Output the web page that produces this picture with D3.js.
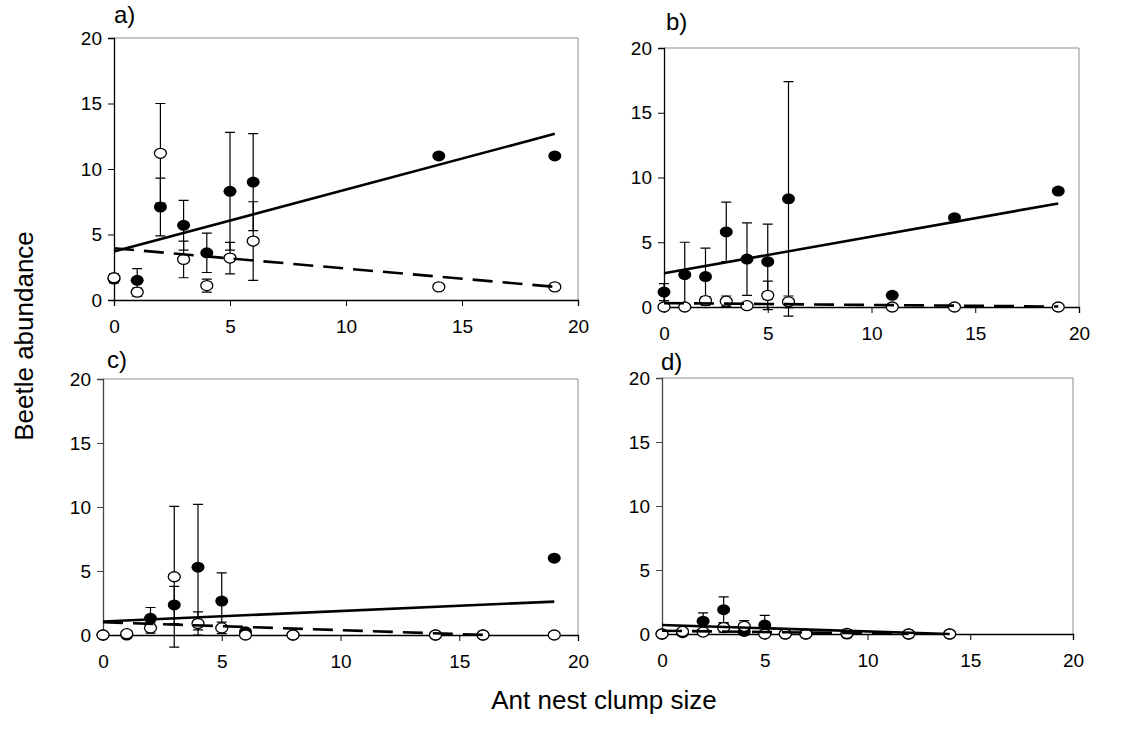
<!DOCTYPE html>
<html><head><meta charset="utf-8">
<script src="https://cdn.jsdelivr.net/npm/d3@7"></script>
<style>body{margin:0;background:#fff}svg{display:block}text{font-family:"Liberation Sans",Arial,sans-serif;fill:#000}</style>
</head><body><svg id="c" width="1130" height="742"></svg>
<script>
// ---- data ----
const xTicks = [0, 5, 10, 15, 20];
const yTicks = [0, 5, 10, 15, 20];
const panelLabels = ["a)", "b)", "c)", "d)"];
const xTitle = "Ant nest clump size";
const yTitle = "Beetle abundance";

const xA = [0, 1, 2, 3, 4, 5, 6, 14, 19];
const filledA = [1.6, 1.5, 7.1, 5.7, 3.6, 8.3, 9.0, 11.0, 11.0];
const filledErrA = [0.3, 0.9, 2.2, 1.9, 1.5, 4.5, 3.7, 0, 0];
const openA = [1.7, 0.6, 11.2, 3.1, 1.1, 3.2, 4.5, 1.0, 1.0];
const openErrA = [0.3, 0.3, 3.8, 1.4, 0.5, 1.2, 3.0, 0, 0];
const trendSolidA = [3.7, 0.473, 0, 19];   // intercept, slope, xFrom, xTo
const trendDashA = [3.95, -0.155, 0, 19];

const xB = [0, 1, 2, 3, 4, 5, 6, 11, 14, 19];
const filledB = [1.15, 2.5, 2.35, 5.8, 3.7, 3.5, 8.35, 0.9, 6.9, 8.95];
const filledErrB = [0.65, 2.5, 2.2, 2.3, 2.8, 2.9, 9.05, 0, 0, 0];
const openB = [0, 0, 0.5, 0.45, 0.1, 0.9, 0.4, 0, 0, 0];
const openErrB = [0, 0, 0.3, 0.4, 0, 1.1, 0.45, 0, 0, 0];
const trendSolidB = [2.6, 0.284, 0, 19];
const trendDashB = [0.3, -0.014, 0, 19];

const xC = [0, 1, 2, 3, 4, 5, 6, 8, 14, 16, 19];
const filledC = [0, 0, 1.3, 2.35, 5.3, 2.65, 0.25, 0, 0, 0, 6.0];
const filledErrC = [0, 0, 0.85, 1.45, 4.9, 2.2, 0, 0, 0, 0, 0];
const openC = [0, 0.1, 0.55, 4.55, 0.9, 0.55, 0, 0, 0, 0, 0];
const openErrC = [0, 0, 0.4, 5.5, 0.9, 0.45, 0, 0, 0, 0, 0];
const trendSolidC = [1.05, 0.082, 0, 19];
const trendDashC = [1.0, -0.062, 0, 16];

const xD = [0, 1, 2, 3, 4, 5, 6, 7, 9, 12, 14];
const filledD = [0, 0.1, 1.0, 1.9, 0.2, 0.7, 0, 0, 0, 0, 0];
const filledErrD = [0, 0, 0.65, 1.0, 0, 0.75, 0, 0, 0, 0, 0];
const openD = [0, 0.2, 0.15, 0.5, 0.6, 0, 0, 0, 0.05, 0, 0];
const openErrD = [0, 0, 0, 0.35, 0.45, 0, 0, 0, 0, 0, 0];
const trendSolidD = [0.7, -0.05, 0, 14];
const trendDashD = [0.25, -0.02, 0, 12];

// ---- layout ----
const boxes = [
  {l:114, r:578, t:38, b:300, lab:[114, 23], axisCol:"#000"},
  {l:664, r:1079, t:48, b:307, lab:[666, 30], axisCol:"#000"},
  {l:103, r:578, t:379, b:635, lab:[107, 368], axisCol:"#444"},
  {l:662, r:1073, t:378, b:634, lab:[661, 370], axisCol:"#444"}
];
const panels = [
  {x:xA, f:filledA, fe:filledErrA, o:openA, oe:openErrA, ts:trendSolidA, td:trendDashA},
  {x:xB, f:filledB, fe:filledErrB, o:openB, oe:openErrB, ts:trendSolidB, td:trendDashB},
  {x:xC, f:filledC, fe:filledErrC, o:openC, oe:openErrC, ts:trendSolidC, td:trendDashC},
  {x:xD, f:filledD, fe:filledErrD, o:openD, oe:openErrD, ts:trendSolidD, td:trendDashD}
];

const svg = d3.select("#c");

panels.forEach((p, i) => {
  const bx = boxes[i];
  const xs = d3.scaleLinear().domain([0, 20]).range([bx.l, bx.r]);
  const ys = d3.scaleLinear().domain([0, 20]).range([bx.b, bx.t]);
  const g = svg.append("g");

  // frame top & right (gray)
  g.append("path").attr("d", `M${bx.l},${bx.t}H${bx.r}V${bx.b}`)
    .attr("fill", "none").attr("stroke", "#8c8c8c").attr("stroke-width", 1);

  // axes
  const yAx = g.append("g").attr("transform", `translate(${bx.l},0)`)
    .call(d3.axisLeft(ys).tickValues(yTicks).tickSize(6).tickPadding(6).tickFormat(d3.format("d")));
  yAx.select(".domain").attr("stroke", bx.axisCol).attr("stroke-width", 1.3);
  yAx.selectAll(".tick line").attr("stroke", bx.axisCol);
  yAx.selectAll("text").style("font-size", "19px").attr("fill", "#000");

  const xAx = g.append("g").attr("transform", `translate(0,${bx.b})`)
    .call(d3.axisBottom(xs).tickValues(xTicks).tickSize(6).tickPadding(14).tickFormat(d3.format("d")));
  xAx.select(".domain").attr("stroke", "#000").attr("stroke-width", 1.3);
  xAx.selectAll("text").style("font-size", "19px").attr("fill", "#000");

  // panel label
  g.append("text").attr("x", bx.lab[0]).attr("y", bx.lab[1]).style("font-size", "24px").text(panelLabels[i]);

  const idx = d3.range(p.x.length);
  const cap = 5;
  function errBars(vals, errs) {
    const eg = g.append("g").attr("stroke", "#000").attr("stroke-width", 1.2).attr("fill", "none");
    idx.filter(j => errs[j] > 0).forEach(j => {
      const cx = xs(p.x[j]);
      const y1 = ys(vals[j] + errs[j]), y0 = ys(vals[j] - errs[j]);
      eg.append("path").attr("d",
        `M${cx},${y0}V${y1}M${cx - cap},${y1}H${cx + cap}M${cx - cap},${y0}H${cx + cap}`);
    });
  }
  // filled series
  errBars(p.f, p.fe);
  g.append("g").selectAll("ellipse").data(idx).join("ellipse")
    .attr("cx", j => xs(p.x[j])).attr("cy", j => ys(p.f[j]))
    .attr("rx", 6.5).attr("ry", 5.5).attr("fill", "#000");
  // open series
  errBars(p.o, p.oe);
  g.append("g").selectAll("ellipse").data(idx).join("ellipse")
    .attr("cx", j => xs(p.x[j])).attr("cy", j => ys(p.o[j]))
    .attr("rx", 6).attr("ry", 5).attr("fill", "#fff").attr("stroke", "#000").attr("stroke-width", 1.3);

  // trend lines
  const line = d3.line().x(d => xs(d[0])).y(d => ys(d[1]));
  const tl = t => [[t[2], t[0] + t[1] * t[2]], [t[3], t[0] + t[1] * t[3]]];
  g.append("path").attr("d", line(tl(p.ts))).attr("stroke", "#000").attr("stroke-width", 2.6).attr("fill", "none");
  g.append("path").attr("d", line(tl(p.td))).attr("stroke", "#000").attr("stroke-width", 2.6)
    .attr("stroke-dasharray", "20,10").attr("fill", "none");
});

svg.append("text").attr("transform", "translate(33,336) rotate(-90)").attr("text-anchor", "middle")
  .style("font-size", "26px").text(yTitle);
svg.append("text").attr("x", 604).attr("y", 709).attr("text-anchor", "middle")
  .style("font-size", "26px").text(xTitle);
</script></body></html>
